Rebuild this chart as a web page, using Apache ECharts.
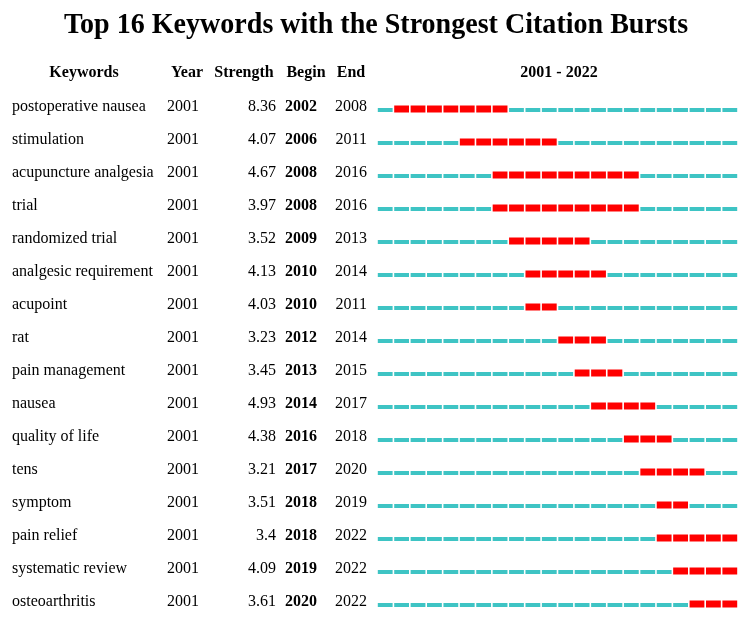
<!DOCTYPE html>
<html>
<head>
<meta charset="utf-8">
<script src="https://cdn.jsdelivr.net/npm/echarts@6/dist/echarts.min.js"></script>
<style>
  html, body { margin: 0; padding: 0; background: #fff; }
  #chart { width: 750px; height: 623px; }
</style>
</head>
<body>
<div id="chart"></div>
<script>
// 关键词与突现数据
const keywords = [
  'postoperative nausea', 'stimulation', 'acupuncture analgesia', 'trial',
  'randomized trial', 'analgesic requirement', 'acupoint', 'rat',
  'pain management', 'nausea', 'quality of life', 'tens',
  'symptom', 'pain relief', 'systematic review', 'osteoarthritis'
];
const years = [2001, 2001, 2001, 2001, 2001, 2001, 2001, 2001, 2001, 2001, 2001, 2001, 2001, 2001, 2001, 2001];
const strengths = ['8.36', '4.07', '4.67', '3.97', '3.52', '4.13', '4.03', '3.23', '3.45', '4.93', '4.38', '3.21', '3.51', '3.4', '4.09', '3.61'];
const begins = [2002, 2006, 2008, 2008, 2009, 2010, 2010, 2012, 2013, 2014, 2016, 2017, 2018, 2018, 2019, 2020];
const ends = [2008, 2011, 2016, 2016, 2013, 2014, 2011, 2014, 2015, 2017, 2018, 2020, 2019, 2022, 2022, 2022];
const firstYear = 2001;
const lastYear = 2022;

// 每一年一个小格子
const cells = [];
keywords.forEach((k, i) => {
  for (let y = firstYear; y <= lastYear; y++) {
    cells.push([y, i, y >= begins[i] && y <= ends[i] ? 1 : 0]);
  }
});

const font = '"Liberation Serif", "Times New Roman", serif';
const headStyle = { fontFamily: font, fontSize: 16, fontWeight: 'bold', color: '#000' };
const cell = { fontFamily: font, fontSize: 16, color: '#000', padding: [0, 0, 6, 0] };

let myChart = echarts.init(document.getElementById('chart'));
myChart.setOption({
  animation: false,
  // 表头
  title: [
    { text: 'Keywords', left: 84, top: 65, padding: 0, textAlign: 'center', textStyle: headStyle },
    { text: 'Year', left: 187, top: 65, padding: 0, textAlign: 'center', textStyle: headStyle },
    { text: 'Strength', left: 244, top: 65, padding: 0, textAlign: 'center', textStyle: headStyle },
    { text: 'Begin', left: 306, top: 65, padding: 0, textAlign: 'center', textStyle: headStyle },
    { text: 'End', left: 351, top: 65, padding: 0, textAlign: 'center', textStyle: headStyle },
    { text: firstYear + ' - ' + lastYear, left: 559, top: 65, padding: 0, textAlign: 'center', textStyle: headStyle }
  ],
  // 主标题，字形略窄
  graphic: [{
    type: 'text',
    x: 376,
    y: 25,
    scaleX: 0.935,
    style: {
      text: 'Top 16 Keywords with the Strongest Citation Bursts',
      align: 'center',
      verticalAlign: 'middle',
      font: 'bold 30px ' + font,
      fill: '#000'
    }
  }],
  grid: { left: 377, right: 12, top: 93.5, bottom: 1.5 },
  xAxis: { type: 'value', min: firstYear, max: lastYear + 1, show: false },
  yAxis: {
    type: 'category',
    inverse: true,
    data: keywords.map((k, i) => i),
    axisLine: { show: false },
    axisTick: { show: false },
    splitLine: { show: false },
    axisLabel: {
      align: 'left',
      margin: 365,
      formatter: function (v) {
        const i = +v;
        return '{kw|' + keywords[i] + '}{yr|' + years[i] + '}{st|' + strengths[i] + '}{bg|' + begins[i] + '}{en|' + ends[i] + '}';
      },
      rich: {
        kw: Object.assign({ width: 155, align: 'left' }, cell),
        yr: Object.assign({ width: 44, align: 'left' }, cell),
        st: Object.assign({ width: 65, align: 'right' }, cell),
        bg: Object.assign({ width: 41, align: 'right', fontWeight: 'bold' }, cell),
        en: Object.assign({ width: 50, align: 'right' }, cell)
      }
    }
  },
  series: [{
    type: 'custom',
    data: cells,
    renderItem: function (params, api) {
      const start = api.coord([api.value(0), api.value(1)]);
      const end = api.coord([api.value(0) + 1, api.value(1)]);
      const burst = api.value(2) === 1;
      const h = burst ? 7 : 4;
      return {
        type: 'rect',
        shape: { x: start[0] + 0.8, y: start[1] - h / 2 + (burst ? -1 : 0), width: end[0] - start[0] - 1.6, height: h },
        style: { fill: burst ? '#FF0000' : '#3EC4C4' }
      };
    }
  }]
});
</script>
</body>
</html>
